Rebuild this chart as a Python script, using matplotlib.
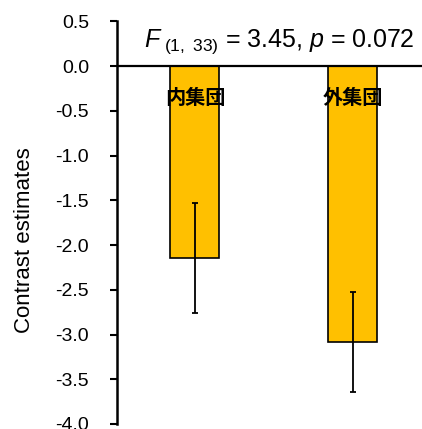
import numpy as np
import matplotlib
matplotlib.use("Agg")
from matplotlib import pyplot as plt

plt.rcParams['font.family'] = ['Liberation Sans', 'DejaVu Sans']
plt.rcParams['mathtext.fontset'] = 'custom'
plt.rcParams['mathtext.rm'] = 'Liberation Sans'
plt.rcParams['mathtext.it'] = 'Liberation Sans:italic'

groups = ['内集団', '外集団']
estimates = [-2.145, -3.088]
errors = [0.61, 0.56]
yticks = [0.5, 0.0, -0.5, -1.0, -1.5, -2.0, -2.5, -3.0, -3.5, -4.0]
stat_text = r'$F_{\ \mathrm{(1,\ 33)}}$ = 3.45, $p$ = 0.072'

fig = plt.figure(figsize=(4.22, 4.29), dpi=100)
ax = fig.add_axes([0.277, 0.0117, 0.723, 0.9383])

x = np.arange(len(groups))
ax.bar(x, estimates, width=0.31, color='#FFC000', edgecolor='black', linewidth=1.2, zorder=2)
ax.errorbar(x, estimates, yerr=errors, fmt='none', ecolor='black', elinewidth=1.3,
            capsize=2, capthick=1.3, zorder=3)
ax.axhline(0, color='black', linewidth=1.6, zorder=4)

for xi, g in zip(x, groups):
    ax.text(xi, -0.346, g, ha='center', va='center', fontsize=14.5, fontweight='bold',
            family=['Noto Sans CJK JP', 'DejaVu Sans'], zorder=5)

ax.text(0.531, 0.216, stat_text, transform=ax.get_yaxis_transform(), ha='center',
        va='baseline', fontsize=18)

ax.set_xlim(-0.494, 1.437)
ax.set_ylim(-4.0, 0.5)
ax.set_yticks(yticks)
ax.set_yticklabels(['%.1f' % t for t in yticks], fontsize=14)
ax.set_xticks([])
ax.set_ylabel('Contrast estimates', fontsize=16, va='center')
ax.yaxis.set_label_coords(-0.302, 0.457)
ax.tick_params(axis='y', direction='out', length=5, width=1.5, pad=15)

for s in ['top', 'right', 'bottom']:
    ax.spines[s].set_visible(False)
ax.spines['left'].set_linewidth(1.8)

fig.savefig('out.png', dpi=100)
